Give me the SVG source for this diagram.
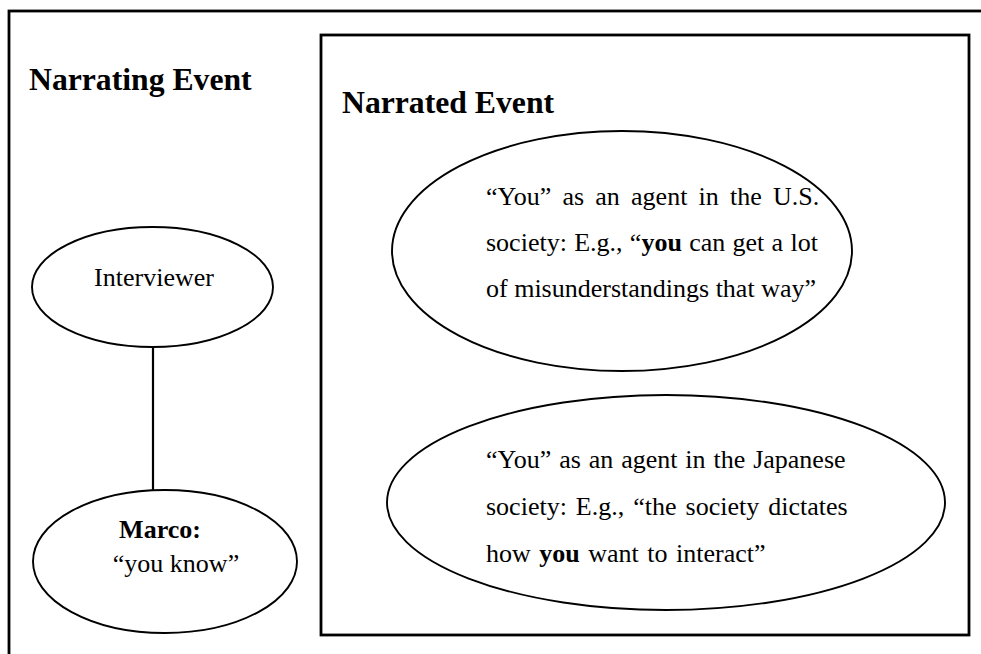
<svg xmlns="http://www.w3.org/2000/svg" width="981" height="654" viewBox="0 0 981 654">
  <style>
    .frame { fill: none; stroke: #000; stroke-width: 2.8; }
    .node { fill: #fff; stroke: #000; stroke-width: 1.9; }
    .link { stroke: #000; stroke-width: 2.2; fill: none; }
    .head { font-family: "Liberation Serif", "Times New Roman", serif; font-size: 31.7px; font-weight: bold; fill: #000; }
    .txt { font-family: "Liberation Serif", "Times New Roman", serif; font-size: 26px; fill: #000; }
    .b { font-weight: bold; }
  </style>
  <rect width="981" height="654" fill="#fff"/>

  <!-- outer panel: narrating event -->
  <g id="narrating-event">
    <rect class="frame" x="9" y="11" width="990" height="670"/>
    <text class="head" x="29" y="90">Narrating Event</text>
  </g>

  <!-- inner panel: narrated event -->
  <g id="narrated-event">
    <rect class="frame" x="321" y="35" width="648" height="600"/>
    <text class="head" x="342" y="113">Narrated Event</text>
  </g>

  <!-- connectors -->
  <g id="connectors">
    <line class="link" x1="153" y1="347" x2="153" y2="490"/>
  </g>

  <g id="interviewer">
    <ellipse class="node" cx="152.5" cy="287" rx="120.5" ry="60"/>
    <text class="txt" x="154" y="286" text-anchor="middle">Interviewer</text>
  </g>

  <g id="marco">
    <ellipse class="node" cx="165" cy="561.5" rx="132" ry="71.5"/>
    <text class="txt b" x="160" y="538" text-anchor="middle">Marco:</text>
    <text class="txt" x="176" y="572" text-anchor="middle">“you know”</text>
  </g>

  <g id="you-us">
    <ellipse class="node" cx="622" cy="251" rx="230" ry="120"/>
    <text class="txt" x="486" y="205" word-spacing="4.7">“You” as an agent in the U.S.</text>
    <text class="txt" x="486" y="251" word-spacing="0.8">society: E.g., “<tspan class="b">you</tspan> can get a lot</text>
    <text class="txt" x="486" y="297">of misunderstandings that way”</text>
  </g>

  <g id="you-japan">
    <ellipse class="node" cx="666" cy="502.5" rx="279" ry="107.5"/>
    <text class="txt" x="486" y="468" word-spacing="1.4">“You” as an agent in the Japanese</text>
    <text class="txt" x="486" y="515" word-spacing="2.5">society: E.g., “the society dictates</text>
    <text class="txt" x="486" y="562" word-spacing="2">how <tspan class="b">you</tspan> want to interact”</text>
  </g>
</svg>
